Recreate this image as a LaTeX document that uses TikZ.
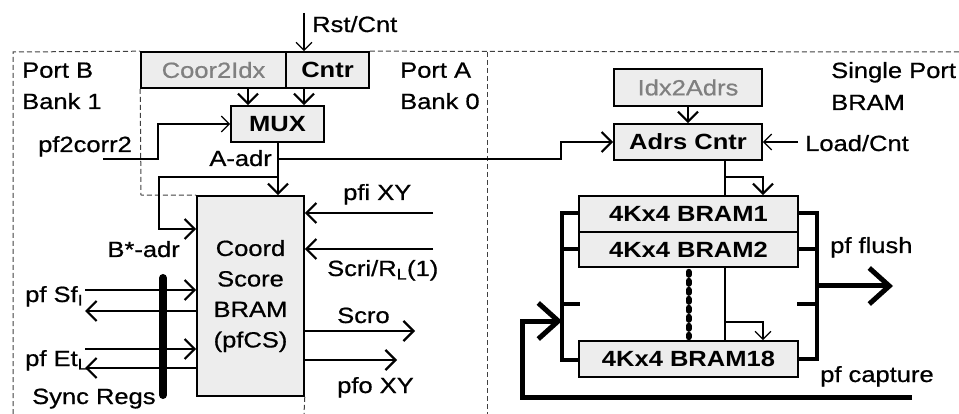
\documentclass[tikz,border=0pt]{standalone}
\usepackage{fontspec}
\setmainfont{Liberation Sans}[FakeStretch=1.16, UprightFeatures={FakeBold=0.7}]
\usetikzlibrary{arrows.meta}
\definecolor{boxfill}{gray}{0.93}
\definecolor{dimtext}{gray}{0.5}

\tikzset{
  blk/.style={draw=black, line width=1.6pt, fill=boxfill, inner sep=0pt,
              font=\fontsize{22}{30.5}\selectfont},
  lbl/.style={inner sep=0pt, font=\fontsize{22}{30}\selectfont},
  wire/.style={line width=2.2pt},
  thinwire/.style={line width=1.3pt},
  arr/.style={line width=2.2pt, -{Straight Barb[length=10pt,width=20pt]}},
  thinarr/.style={line width=1.3pt, -{Straight Barb[length=8pt,width=16pt]}},
  bus/.style={line width=4pt},
  bigarr/.style={line width=5pt, -{Straight Barb[length=20pt,width=36pt]}},
  region/.style={line width=1pt, draw=black!75, dash pattern=on 5pt off 3pt},
}

\begin{document}
\begin{tikzpicture}[x=1pt, y=-1pt]
\useasboundingbox (0,0) rectangle (959,414);

% ---- blocks of the dual-port section ----
\node[blk, minimum width=145pt, minimum height=36pt, text=dimtext] (coor) at (213.5,70) {Coor2Idx};
\node[blk, minimum width=83pt, minimum height=36pt, font=\fontsize{22}{30}\selectfont\bfseries] (cntr) at (327.5,70) {Cntr};
\node[blk, minimum width=93pt, minimum height=36pt, font=\fontsize{22}{30}\selectfont\bfseries] (mux) at (277.5,124) {MUX};
\node[blk, minimum width=107pt, minimum height=200pt, align=center] (cs) at (250.5,296) {Coord\\Score\\BRAM\\(pfCS)};

% ---- blocks of the single-port section ----
\node[blk, minimum width=148pt, minimum height=37pt, text=dimtext] (idx) at (688,87.5) {Idx2Adrs};
\node[blk, minimum width=148pt, minimum height=36pt, font=\fontsize{22}{30}\selectfont\bfseries] (adrs) at (688,142) {Adrs Cntr};
\node[blk, minimum width=219pt, minimum height=36pt, font=\fontsize{22}{30}\selectfont\bfseries] (b1) at (688.5,214) {4Kx4 BRAM1};
\node[blk, minimum width=219pt, minimum height=35pt, font=\fontsize{22}{30}\selectfont\bfseries] (b2) at (688.5,249.5) {4Kx4 BRAM2};
\node[blk, minimum width=219pt, minimum height=36pt, font=\fontsize{22}{30}\selectfont\bfseries] (b18) at (688.5,359) {4Kx4 BRAM18};

% ---- region borders ----
\draw[region] (13,414) -- (13,52) -- (coor.north west);
\draw[region] (cntr.north east) -- (959,52);
\draw[region] (487,52) -- (487,414);
\draw[region] (coor.south west) -- (141,195) -- (cs.north west);
\draw[region] (cs.south east) -- (304,414);

% ---- region titles ----
\node[lbl, anchor=base west] (tpb) at (22,77.7) {Port B};
\node[lbl, anchor=base west] (tb1) at (22,109) {Bank 1};
\node[lbl, anchor=base west] (tpa) at (400,77.7) {Port A};
\node[lbl, anchor=base west] (tb0) at (400,109) {Bank 0};
\node[lbl, anchor=base west] (tsp) at (831,78) {Single Port};
\node[lbl, anchor=base west] (tbr) at (831,110) {BRAM};

% ---- control and address paths ----
\coordinate (rstin) at (304,13);
\draw[thinarr] (rstin) -- (cntr.north -| rstin);
\node[lbl, anchor=base west] (trst) at (312,32) {Rst/Cnt};

\draw[arr] (coor.south -| 248,0) -- (mux.north -| 248,0);
\draw[arr] (cntr.south -| 304,0) -- (mux.north -| 304,0);

\coordinate (pfcin) at (103,159);
\draw[thinarr] (pfcin) -- (158,159) -- (158,124) -- (mux.west);
\node[lbl, anchor=base east] (tpfc) at (132,152) {pf2corr2};

\draw[arr] (mux.south -| 278,0) -- (cs.north -| 278,0);
\node[lbl, anchor=base east] (tadr) at (272,166) {A-adr};
\draw[arr] (278,159) -- (561,159) -- (561,142) -- (adrs.west);

\draw[arr] (278,177) -- (159,177) -- (159,229) -- (cs.west |- 0,229);
\node[lbl, anchor=base east] (tbadr) at (180,257) {B*-adr};

% ---- sync registers ----
\coordinate (sfin) at (85,290);
\coordinate (sfout) at (85,311);
\coordinate (etin) at (85,349);
\coordinate (etout) at (85,368);
\draw[arr] (sfin) -- (cs.west |- sfin);
\draw[arr] (cs.west |- sfout) -- (sfout);
\draw[arr] (etin) -- (cs.west |- etin);
\draw[arr] (cs.west |- etout) -- (etout);
\draw[line width=8pt, line cap=round] (163,278) -- (163,395);
\node[lbl, anchor=base west] (tsf) at (25,302) {pf Sf\textsubscript{I}};
\node[lbl, anchor=base west] (tet) at (25,366) {pf Et\textsubscript{L}};
\node[lbl, anchor=base west] (tsync) at (32,404) {Sync Regs};

% ---- data ports of the score BRAM ----
\coordinate (pfiin) at (433,213);
\coordinate (scrin) at (433,249);
\coordinate (scrout) at (415,331);
\coordinate (pfoout) at (397,360);
\draw[arr] (pfiin) -- (cs.east |- pfiin);
\draw[arr] (scrin) -- (cs.east |- scrin);
\draw[arr] (cs.east |- scrout) -- (scrout);
\draw[arr] (cs.east |- pfoout) -- (pfoout);
\node[lbl, anchor=base west] (tpfi) at (343,200) {pfi XY};
\node[lbl, anchor=base west] (tscri) at (327,276) {Scri/R\textsubscript{L}(1)};
\node[lbl, anchor=base west] (tscro) at (337,323) {Scro};
\node[lbl, anchor=base west] (tpfo) at (337,393) {pfo XY};

% ---- single-port address chain ----
\draw[arr] (idx.south) -- (adrs.north);
\coordinate (ldin) at (798,142);
\draw[thinarr] (ldin) -- (adrs.east);
\node[lbl, anchor=base west] (tld) at (805,151) {Load/Cnt};

\draw[wire] (adrs.south -| 725,0) -- (b1.north -| 725,0);
\draw[arr] (725,177) -- (763,177) -- (b1.north -| 763,0);

\draw[thinwire] (b2.south -| 725,0) -- (b18.north -| 725,0);
\draw[thinarr] (725,322) -- (763,322) -- (b18.north -| 763,0);
\draw[line width=6pt, line cap=round, dash pattern=on 3pt off 6pt] ([yshift=-4pt]b2.south) -- ([yshift=3pt]b18.north);

% ---- capture bus (left) ----
\draw[bus] (b1.west |- 0,213) -- (562,213) -- (562,360) -- (b18.west |- 0,360);
\draw[bus] (b2.west |- 0,249) -- (562,249);
\draw[bus] (562,304) -- (580,304);
\coordinate (capin) at (912,397);
\draw[bigarr] (capin) -- (522,397) -- (522,321) -- (562,321);
\node[lbl, anchor=base west] (tcap) at (820,382) {pf capture};

% ---- flush bus (right) ----
\draw[bus] (b1.east |- 0,213) -- (817,213) -- (817,359) -- (b18.east |- 0,359);
\draw[bus] (b2.east |- 0,249) -- (817,249);
\draw[bus] (797,304) -- (817,304);
\coordinate (flout) at (893,286);
\draw[bigarr] (817,286) -- (flout);
\node[lbl, anchor=base west] (tfl) at (830,253) {pf flush};
\end{tikzpicture}
\end{document}
